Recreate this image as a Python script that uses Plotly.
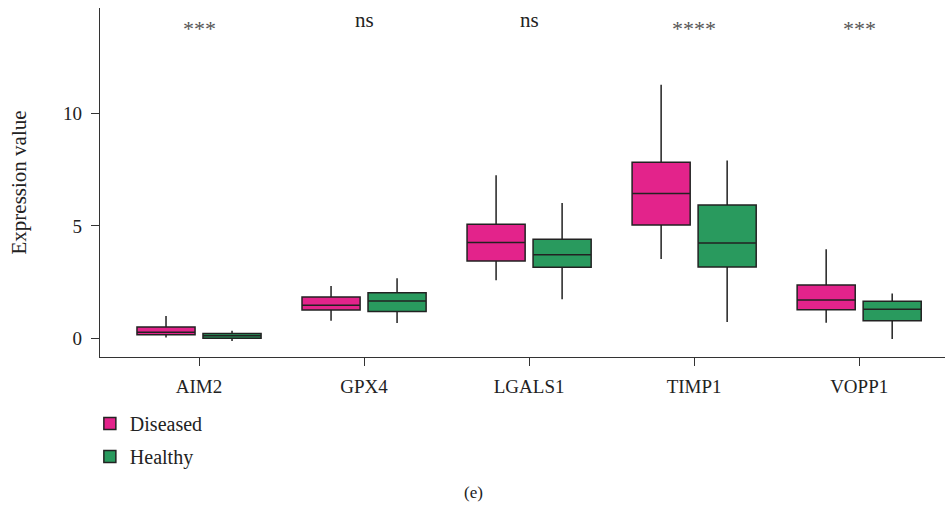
import plotly.graph_objects as go

genes = ["AIM2", "GPX4", "LGALS1", "TIMP1", "VOPP1"]
signif = ["***", "ns", "ns", "****", "***"]

dis_low = [0.04, 0.78, 2.58, 3.53, 0.69]
dis_q1 = [0.16, 1.26, 3.44, 5.04, 1.27]
dis_med = [0.27, 1.47, 4.26, 6.44, 1.71]
dis_q3 = [0.50, 1.84, 5.08, 7.84, 2.37]
dis_up = [0.99, 2.33, 7.26, 11.28, 3.96]

hea_low = [-0.12, 0.68, 1.74, 0.73, -0.03]
hea_q1 = [0.00, 1.20, 3.16, 3.17, 0.78]
hea_med = [0.12, 1.66, 3.72, 4.24, 1.29]
hea_q3 = [0.22, 2.03, 4.41, 5.93, 1.65]
hea_up = [0.34, 2.67, 6.02, 7.91, 2.00]

FONT = "Liberation Serif"
fig = go.Figure()
fig.add_trace(go.Box(name="Diseased", x=genes, q1=dis_q1, median=dis_med, q3=dis_q3,
                     lowerfence=dis_low, upperfence=dis_up, legendgroup="d",
                     fillcolor="#E3238B", line=dict(color="#222222", width=1.5),
                     whiskerwidth=0, boxpoints=False, hoverinfo="skip"))
fig.add_trace(go.Box(name="Healthy", x=genes, q1=hea_q1, median=hea_med, q3=hea_q3,
                     lowerfence=hea_low, upperfence=hea_up, legendgroup="h",
                     fillcolor="#299A5E", line=dict(color="#222222", width=1.5),
                     whiskerwidth=0, boxpoints=False, hoverinfo="skip"))

for g, s in zip(genes, signif):
    star = "*" in s
    fig.add_annotation(x=g, y=13.78 if star else 14.15, text=s, showarrow=False,
                       xref="x", yref="y",
                       font=dict(family=FONT, size=22 if star else 21,
                                 color="#555555" if star else "#222222"))

fig.add_annotation(x=0.4426, y=-0.42, xref="paper", yref="paper", text="(e)",
                   showarrow=False, font=dict(family=FONT, size=17, color="#222222"))

fig.update_layout(
    width=947, height=506,
    margin=dict(l=100, r=2, t=8, b=149),
    paper_bgcolor="white", plot_bgcolor="white",
    boxmode="group", boxgap=0.2, boxgroupgap=0.12,
    font=dict(family=FONT, size=19, color="#222222"),
    showlegend=True,
    legend=dict(x=-0.012, y=-0.135, xanchor="left", yanchor="top",
                orientation="v", font=dict(family=FONT, size=20),
                tracegroupgap=4, bgcolor="rgba(0,0,0,0)"),
    xaxis=dict(range=[-0.6, 4.52], showline=True, linecolor="#333333", linewidth=1.2,
               ticks="outside", ticklen=8, tickcolor="#333333", showgrid=False,
               ticklabelstandoff=4,
               tickfont=dict(family=FONT, size=19), zeroline=False),
    yaxis=dict(range=[-0.83, 14.7], showline=True, linecolor="#333333", linewidth=1.2,
               ticks="outside", ticklen=8, tickcolor="#333333", showgrid=False,
               tickvals=[0, 5, 10], zeroline=False, ticklabelstandoff=5,
               tickfont=dict(family=FONT, size=19),
               title=dict(text="Expression value", font=dict(family=FONT, size=21), standoff=30)),
)

fig.write_html("out.html")
